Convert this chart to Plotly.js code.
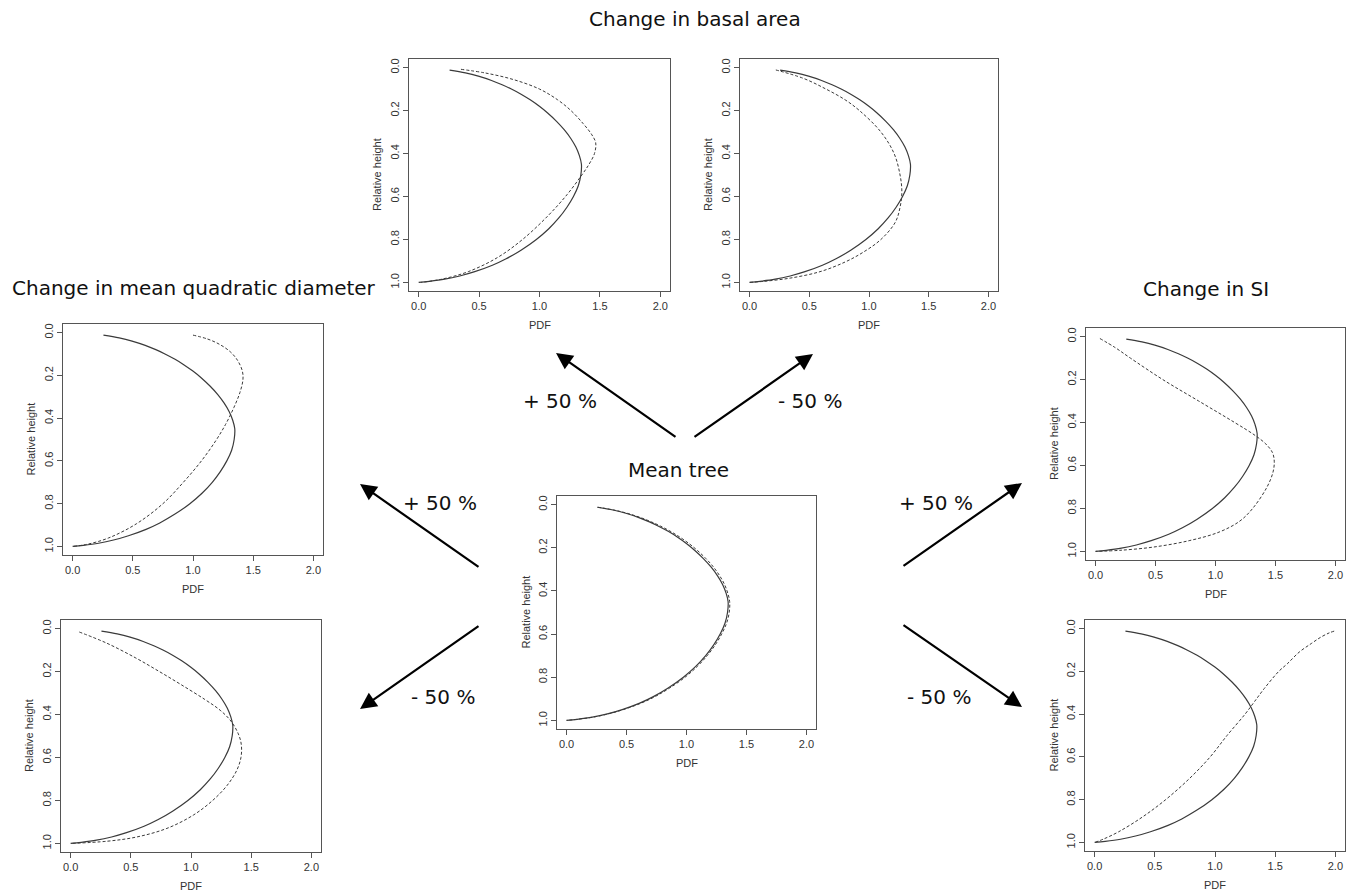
<!DOCTYPE html>
<html>
<head>
<meta charset="utf-8">
<script src="https://cdn.plot.ly/plotly-3.0.1.min.js"></script>
<style>
  html, body { margin: 0; padding: 0; background: #ffffff; }
  #chart { width: 1351px; height: 892px; }
</style>
</head>
<body>
<div id="chart"></div>
<script>
// ---------------- data ----------------
const xTickVals = [0, 0.5, 1, 1.5, 2];
const xTickText = ['0.0', '0.5', '1.0', '1.5', '2.0'];
const yTickVals = [0, 0.2, 0.4, 0.6, 0.8, 1.0];
const yTickText = ['0.0', '0.2', '0.4', '0.6', '0.8', '1.0'];

// Mean tree (solid reference curve, drawn in every panel)
const meanTreeY = [0.012, 0.025, 0.04, 0.06, 0.08, 0.1, 0.125, 0.15, 0.18, 0.21, 0.25, 0.29, 0.33, 0.37, 0.41, 0.45, 0.5, 0.55, 0.6, 0.65, 0.7, 0.75, 0.8, 0.85, 0.89, 0.92, 0.95, 0.97, 0.985, 0.995, 1.0];
const meanTreeX = [0.256, 0.387, 0.494, 0.603, 0.691, 0.767, 0.851, 0.923, 0.999, 1.065, 1.141, 1.206, 1.259, 1.301, 1.33, 1.347, 1.342, 1.321, 1.281, 1.227, 1.16, 1.077, 0.974, 0.847, 0.724, 0.61, 0.464, 0.34, 0.215, 0.088, 0.0];

// Mean tree, second (dashed) curve
const meanDashY = [0.012, 0.025, 0.04, 0.06, 0.08, 0.1, 0.125, 0.15, 0.18, 0.21, 0.25, 0.29, 0.33, 0.37, 0.41, 0.45, 0.5, 0.55, 0.6, 0.65, 0.7, 0.75, 0.8, 0.85, 0.89, 0.92, 0.95, 0.97, 0.985, 0.995, 1.0];
const meanDashX = [0.26, 0.395, 0.505, 0.617, 0.707, 0.785, 0.87, 0.943, 1.02, 1.086, 1.162, 1.226, 1.277, 1.317, 1.344, 1.36, 1.356, 1.334, 1.293, 1.24, 1.173, 1.09, 0.988, 0.86, 0.737, 0.622, 0.474, 0.348, 0.221, 0.092, 0.0];

// Change in basal area +50 %
const basalPlusY = [0.008, 0.025, 0.055, 0.1, 0.15, 0.2, 0.26, 0.31, 0.35, 0.4, 0.45, 0.5, 0.59, 0.69, 0.8, 0.885, 0.95, 0.985, 1.0];
const basalPlusX = [0.35, 0.55, 0.78, 1.0, 1.15, 1.26, 1.36, 1.43, 1.465, 1.455, 1.41, 1.35, 1.23, 1.07, 0.86, 0.65, 0.41, 0.19, 0.02];

// Change in basal area -50 %
const basalMinusY = [0.011, 0.05, 0.1, 0.15, 0.2, 0.3, 0.4, 0.5, 0.58, 0.65, 0.72, 0.8, 0.86, 0.905, 0.95, 0.98, 0.995, 1.0];
const basalMinusX = [0.22, 0.45, 0.64, 0.8, 0.92, 1.1, 1.21, 1.26, 1.275, 1.26, 1.22, 1.1, 0.95, 0.8, 0.59, 0.34, 0.12, 0.0];

// Change in mean quadratic diameter +50 %
const diamPlusY = [0.012, 0.03, 0.055, 0.09, 0.13, 0.18, 0.22, 0.28, 0.35, 0.43, 0.505, 0.6, 0.7, 0.8, 0.894, 0.96, 0.99, 1.0];
const diamPlusX = [1.0, 1.12, 1.22, 1.31, 1.37, 1.41, 1.415, 1.39, 1.34, 1.27, 1.19, 1.07, 0.92, 0.75, 0.53, 0.3, 0.12, 0.0];

// Change in mean quadratic diameter -50 %
const diamMinusY = [0.016, 0.067, 0.137, 0.2, 0.26, 0.33, 0.38, 0.43, 0.49, 0.54, 0.6, 0.66, 0.73, 0.8, 0.868, 0.93, 0.97, 0.99, 1.0];
const diamMinusX = [0.072, 0.297, 0.542, 0.737, 0.915, 1.115, 1.242, 1.331, 1.393, 1.418, 1.415, 1.38, 1.3, 1.18, 1.02, 0.8, 0.55, 0.3, 0.0];

// Change in SI +50 %
const siPlusY = [0.009, 0.05, 0.1, 0.2, 0.3, 0.4, 0.46, 0.5, 0.54, 0.58, 0.63, 0.7, 0.8, 0.86, 0.91, 0.95, 0.98, 0.995, 1.0];
const siPlusX = [0.036, 0.16, 0.29, 0.56, 0.86, 1.16, 1.33, 1.42, 1.475, 1.49, 1.48, 1.43, 1.31, 1.2, 1.03, 0.78, 0.48, 0.2, 0.0];

// Change in SI -50 %
const siMinusY = [0.012, 0.02, 0.04, 0.07, 0.11, 0.165, 0.2, 0.28, 0.34, 0.4, 0.5, 0.6, 0.7, 0.8, 0.88, 0.95, 0.985, 1.0];
const siMinusX = [1.99, 1.95, 1.88, 1.8, 1.7, 1.6, 1.53, 1.41, 1.33, 1.25, 1.1, 0.96, 0.79, 0.59, 0.4, 0.2, 0.07, 0.0];

// ---------------- layout helpers ----------------
const W = 1351, H = 892;
const FONT = 'DejaVu Sans, Verdana, sans-serif';
const AXFONT = 'Liberation Sans, Arial, Helvetica, sans-serif';

// panel boxes in page pixels: [left, top, right, bottom]
const panels = [
  { box: [409, 59, 670, 291],   dx: basalPlusX,  dy: basalPlusY },
  { box: [740, 59, 998, 291],   dx: basalMinusX, dy: basalMinusY },
  { box: [63, 324, 323, 555],   dx: diamPlusX,   dy: diamPlusY },
  { box: [61, 620, 321, 852],   dx: diamMinusX,  dy: diamMinusY },
  { box: [557, 496, 816, 729],  dx: meanDashX,   dy: meanDashY },
  { box: [1086, 328, 1345, 560], dx: siPlusX,    dy: siPlusY },
  { box: [1085, 620, 1345, 851], dx: siMinusX,   dy: siMinusY }
];

const traces = [];
const layout = {
  width: W, height: H,
  margin: { l: 0, r: 0, t: 0, b: 0, pad: 0 },
  paper_bgcolor: '#ffffff',
  plot_bgcolor: '#ffffff',
  showlegend: false,
  annotations: []
};

panels.forEach((p, i) => {
  const n = i + 1;
  const sx = n === 1 ? '' : String(n);
  const [L, T, R, B] = p.box;
  const xa = 'x' + sx, ya = 'y' + sx;
  layout['xaxis' + sx] = {
    domain: [L / W, R / W], anchor: ya,
    range: [-0.08, 2.08], fixedrange: true,
    tickvals: xTickVals, ticktext: xTickText,
    ticks: 'outside', ticklen: 5, tickcolor: '#555', tickwidth: 1,
    showline: true, mirror: true, linecolor: '#555', linewidth: 1,
    showgrid: false, zeroline: false, automargin: false,
    tickfont: { family: AXFONT, size: 11, color: '#333' }
  };
  layout['yaxis' + sx] = {
    domain: [1 - B / H, 1 - T / H], anchor: xa,
    range: [1.04, -0.04], fixedrange: true,
    tickvals: yTickVals, ticktext: yTickText, tickangle: -90,
    ticks: 'outside', ticklen: 5, tickcolor: '#555', tickwidth: 1,
    showline: true, mirror: true, linecolor: '#555', linewidth: 1,
    showgrid: false, zeroline: false, automargin: false,
    tickfont: { family: AXFONT, size: 11, color: '#333' }
  };
  traces.push({
    type: 'scatter', mode: 'lines', xaxis: xa, yaxis: ya,
    x: meanTreeX, y: meanTreeY,
    line: { color: '#3a3a3a', width: 1.2, shape: 'spline', smoothing: 1 },
    hoverinfo: 'skip'
  });
  traces.push({
    type: 'scatter', mode: 'lines', xaxis: xa, yaxis: ya,
    x: p.dx, y: p.dy,
    line: { color: '#3a3a3a', width: 1, dash: '3px,2px', shape: 'spline', smoothing: 1 },
    hoverinfo: 'skip'
  });
  // axis titles
  layout.annotations.push({
    xref: 'paper', yref: 'paper', x: ((L + R) / 2) / W, y: 1 - (B + 34) / H,
    text: 'PDF', showarrow: false, xanchor: 'center', yanchor: 'middle',
    font: { family: AXFONT, size: 11, color: '#333' }
  });
  layout.annotations.push({
    xref: 'paper', yref: 'paper', x: (L - 32) / W, y: 1 - ((T + B) / 2) / H,
    text: 'Relative height', showarrow: false, textangle: -90,
    xanchor: 'center', yanchor: 'middle',
    font: { family: AXFONT, size: 11, color: '#333' }
  });
});

// big labels
const labels = [
  { t: 'Change in basal area', x: 695, y: 19, a: 'center' },
  { t: 'Change in mean quadratic diameter', x: 10, y: 288, a: 'left' },
  { t: 'Change in SI', x: 1206, y: 289, a: 'center' },
  { t: 'Mean tree', x: 678, y: 470, a: 'center' },
  { t: '+ 50 %', x: 560, y: 401, a: 'center' },
  { t: '- 50 %', x: 810, y: 401, a: 'center' },
  { t: '+ 50 %', x: 440, y: 503, a: 'center' },
  { t: '- 50 %', x: 443, y: 697, a: 'center' },
  { t: '+ 50 %', x: 936, y: 503, a: 'center' },
  { t: '- 50 %', x: 939, y: 697, a: 'center' }
];
labels.forEach(l => {
  layout.annotations.push({
    xref: 'paper', yref: 'paper', x: l.x / W, y: 1 - l.y / H,
    text: l.t, showarrow: false, xanchor: l.a, yanchor: 'middle',
    font: { family: FONT, size: 20, color: '#111' }
  });
});

// arrows: [tipX, tipY, tailX, tailY] in page pixels
const arrows = [
  [556, 353, 677, 438],
  [813, 354, 693, 438],
  [360, 484, 480, 568],
  [360, 709, 480, 625],
  [1022, 483, 902, 567],
  [1022, 707, 902, 624]
];
arrows.forEach(a => {
  layout.annotations.push({
    xref: 'paper', yref: 'paper', x: a[0] / W, y: 1 - a[1] / H,
    ax: a[2] - a[0], ay: a[3] - a[1], axref: 'pixel', ayref: 'pixel',
    text: '', showarrow: true, arrowhead: 2, arrowsize: 1.5, arrowwidth: 2.2,
    arrowcolor: '#000', standoff: 0, startstandoff: 0
  });
});

Plotly.newPlot('chart', traces, layout, { staticPlot: true, displayModeBar: false });
</script>
</body>
</html>
